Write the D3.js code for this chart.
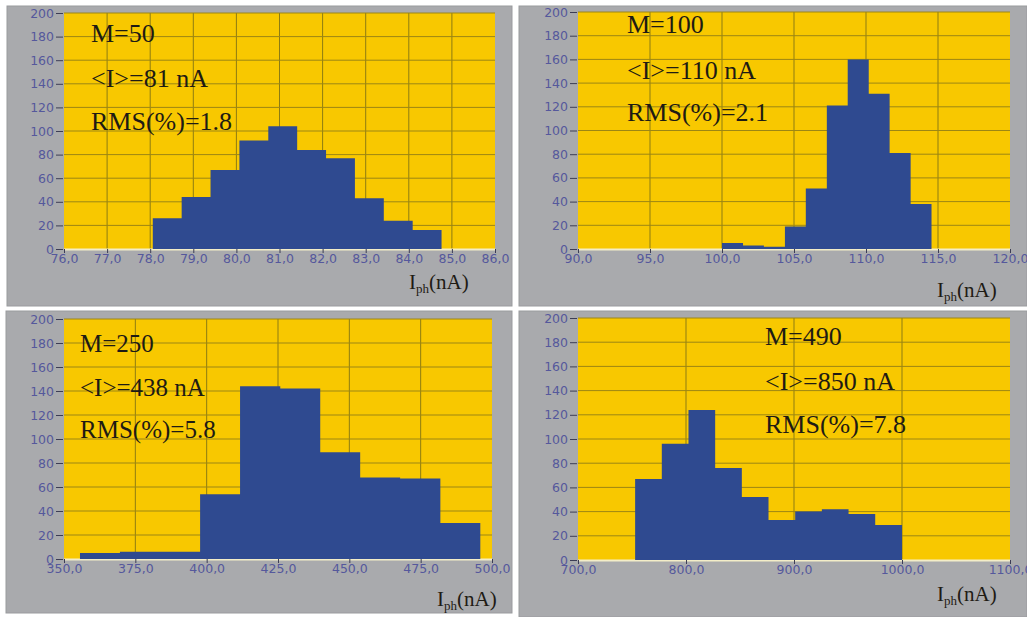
<!DOCTYPE html>
<meta charset="utf-8">
<style>
body { margin: 0; background: #fff; }
.tick text { font-family: "DejaVu Sans", Verdana, sans-serif; font-size: 12.5px; fill: #55589c; }
.tick line { stroke: #3c3d55; }
.note { font-family: "Liberation Serif", "Times New Roman", serif; fill: #1e1b14; }
</style>
<svg width="1027" height="617"></svg>
<script src="https://d3js.org/d3.v7.min.js"></script>
<script>

// counts per bin, bin edges in nA
var edges50 = [78.06, 78.73, 79.40, 80.07, 80.74, 81.41, 82.08, 82.75, 83.42, 84.09, 84.76];
var counts50 = [26, 44, 67, 92, 104, 84, 77, 43, 24, 16];
var ticks50 = [76, 77, 78, 79, 80, 81, 82, 83, 84, 85, 86];

var edges100 = [100, 101.46, 102.91, 104.37, 105.82, 107.28, 108.73, 110.19, 111.64, 113.10, 114.55];
var counts100 = [5, 3, 2, 19, 51, 121, 160, 131, 81, 38];
var ticks100 = [90, 95, 100, 105, 110, 115, 120];

var edges250 = [355.6, 369.6, 383.7, 397.7, 411.7, 425.8, 439.8, 453.8, 467.8, 481.9, 495.9];
var counts250 = [5, 6, 6, 54, 144, 142, 89, 68, 67, 30];
var ticks250 = [350, 375, 400, 425, 450, 475, 500];

var edges490 = [752.9, 777.6, 802.3, 827.0, 851.7, 876.4, 901.1, 925.8, 950.5, 975.2, 1000];
var counts490 = [67, 96, 124, 76, 52, 33, 40, 42, 38, 29];
var ticks490 = [700, 800, 900, 1000, 1100];

var yTicks = [0, 20, 40, 60, 80, 100, 120, 140, 160, 180, 200];

var notes50 = ["M=50", "<I>=81 nA", "RMS(%)=1.8"];
var notes100 = ["M=100", "<I>=110 nA", "RMS(%)=2.1"];
var notes250 = ["M=250", "<I>=438 nA", "RMS(%)=5.8"];
var notes490 = ["M=490", "<I>=850 nA", "RMS(%)=7.8"];

var svg = d3.select("svg");
var fmt = function(d) { return d3.format(".1f")(d).replace(".", ","); };

var panels = [
  { box: [7, 6, 505, 300], plot: [64, 13, 495, 249], edges: edges50, counts: counts50, ticks: ticks50,
    notes: notes50, noteX: 91, noteY: [42, 87, 130], noteSize: 26, label: [409, 289] },
  { box: [519, 6, 508, 300], plot: [578, 12, 1010, 249], edges: edges100, counts: counts100, ticks: ticks100,
    notes: notes100, noteX: 627, noteY: [33, 79, 121], noteSize: 26, label: [937, 297] },
  { box: [6, 311, 506, 302], plot: [64, 319, 492, 559], edges: edges250, counts: counts250, ticks: ticks250,
    notes: notes250, noteX: 80, noteY: [352, 396, 438], noteSize: 25, label: [437, 606] },
  { box: [519, 311, 508, 306], plot: [578, 318, 1010, 560], edges: edges490, counts: counts490, ticks: ticks490,
    notes: notes490, noteX: 765, noteY: [345, 390, 433], noteSize: 26, label: [937, 601] }
];

panels.forEach(function(p) {
  var g = svg.append("g");

  g.append("rect")
      .attr("x", p.box[0]).attr("y", p.box[1])
      .attr("width", p.box[2]).attr("height", p.box[3])
      .attr("fill", "#a9aaad")
      .attr("stroke", "#9a9b9e");

  var x = d3.scaleLinear()
      .domain([p.ticks[0], p.ticks[p.ticks.length - 1]])
      .range([p.plot[0], p.plot[2]]);
  var y = d3.scaleLinear()
      .domain([0, 200])
      .range([p.plot[3], p.plot[1]]);

  g.append("rect")
      .attr("x", p.plot[0]).attr("y", p.plot[1])
      .attr("width", p.plot[2] - p.plot[0]).attr("height", p.plot[3] - p.plot[1])
      .attr("fill", "#f8c800");

  // grid
  g.append("g").selectAll("line")
    .data(p.ticks.slice(1, -1))
    .enter().append("line")
      .attr("x1", function(d) { return x(d); }).attr("x2", function(d) { return x(d); })
      .attr("y1", p.plot[1]).attr("y2", p.plot[3])
      .attr("stroke", "#8d7c12").attr("stroke-width", 1);
  g.append("g").selectAll("line")
    .data(yTicks.slice(1))
    .enter().append("line")
      .attr("x1", p.plot[0]).attr("x2", p.plot[2])
      .attr("y1", function(d) { return y(d); }).attr("y2", function(d) { return y(d); })
      .attr("stroke", "#9c8614").attr("stroke-width", 1);

  g.append("line")
      .attr("x1", p.plot[0]).attr("x2", p.plot[2])
      .attr("y1", y(0) + 0.5).attr("y2", y(0) + 0.5)
      .attr("stroke", "#f3edc8").attr("stroke-width", 2);

  // histogram bars, drawn as one stepped outline so no seams show
  var pts = [[p.edges[0], 0]];
  p.counts.forEach(function(c, i) {
    pts.push([p.edges[i], c], [p.edges[i + 1], c]);
  });
  pts.push([p.edges[p.edges.length - 1], 0]);
  g.append("path")
      .datum(pts)
      .attr("d", d3.line().x(function(d) { return x(d[0]); }).y(function(d) { return y(d[1]); }))
      .attr("fill", "#2f4a90");

  // axes
  g.append("g")
      .attr("transform", "translate(0," + p.plot[3] + ")")
      .call(d3.axisBottom(x).tickValues(p.ticks).tickFormat(fmt).tickSize(4).tickPadding(1))
    .select(".domain").remove();

  g.append("g")
      .attr("transform", "translate(" + (p.plot[0] - 1) + ",0)")
      .call(d3.axisLeft(y).tickValues(yTicks).tickSize(7).tickPadding(2))
    .select(".domain").remove();

  // annotations
  g.selectAll(".note")
    .data(p.notes)
    .enter().append("text")
      .attr("class", "note")
      .attr("x", p.noteX)
      .attr("y", function(d, i) { return p.noteY[i]; })
      .attr("font-size", p.noteSize)
      .text(function(d) { return d; });

  var lab = g.append("text")
      .attr("class", "note")
      .attr("x", p.label[0]).attr("y", p.label[1])
      .attr("font-size", 21);
  lab.append("tspan").text("I");
  lab.append("tspan").attr("font-size", 13).attr("dy", 4).text("ph");
  lab.append("tspan").attr("dy", -4).text("(nA)");
});

</script>
